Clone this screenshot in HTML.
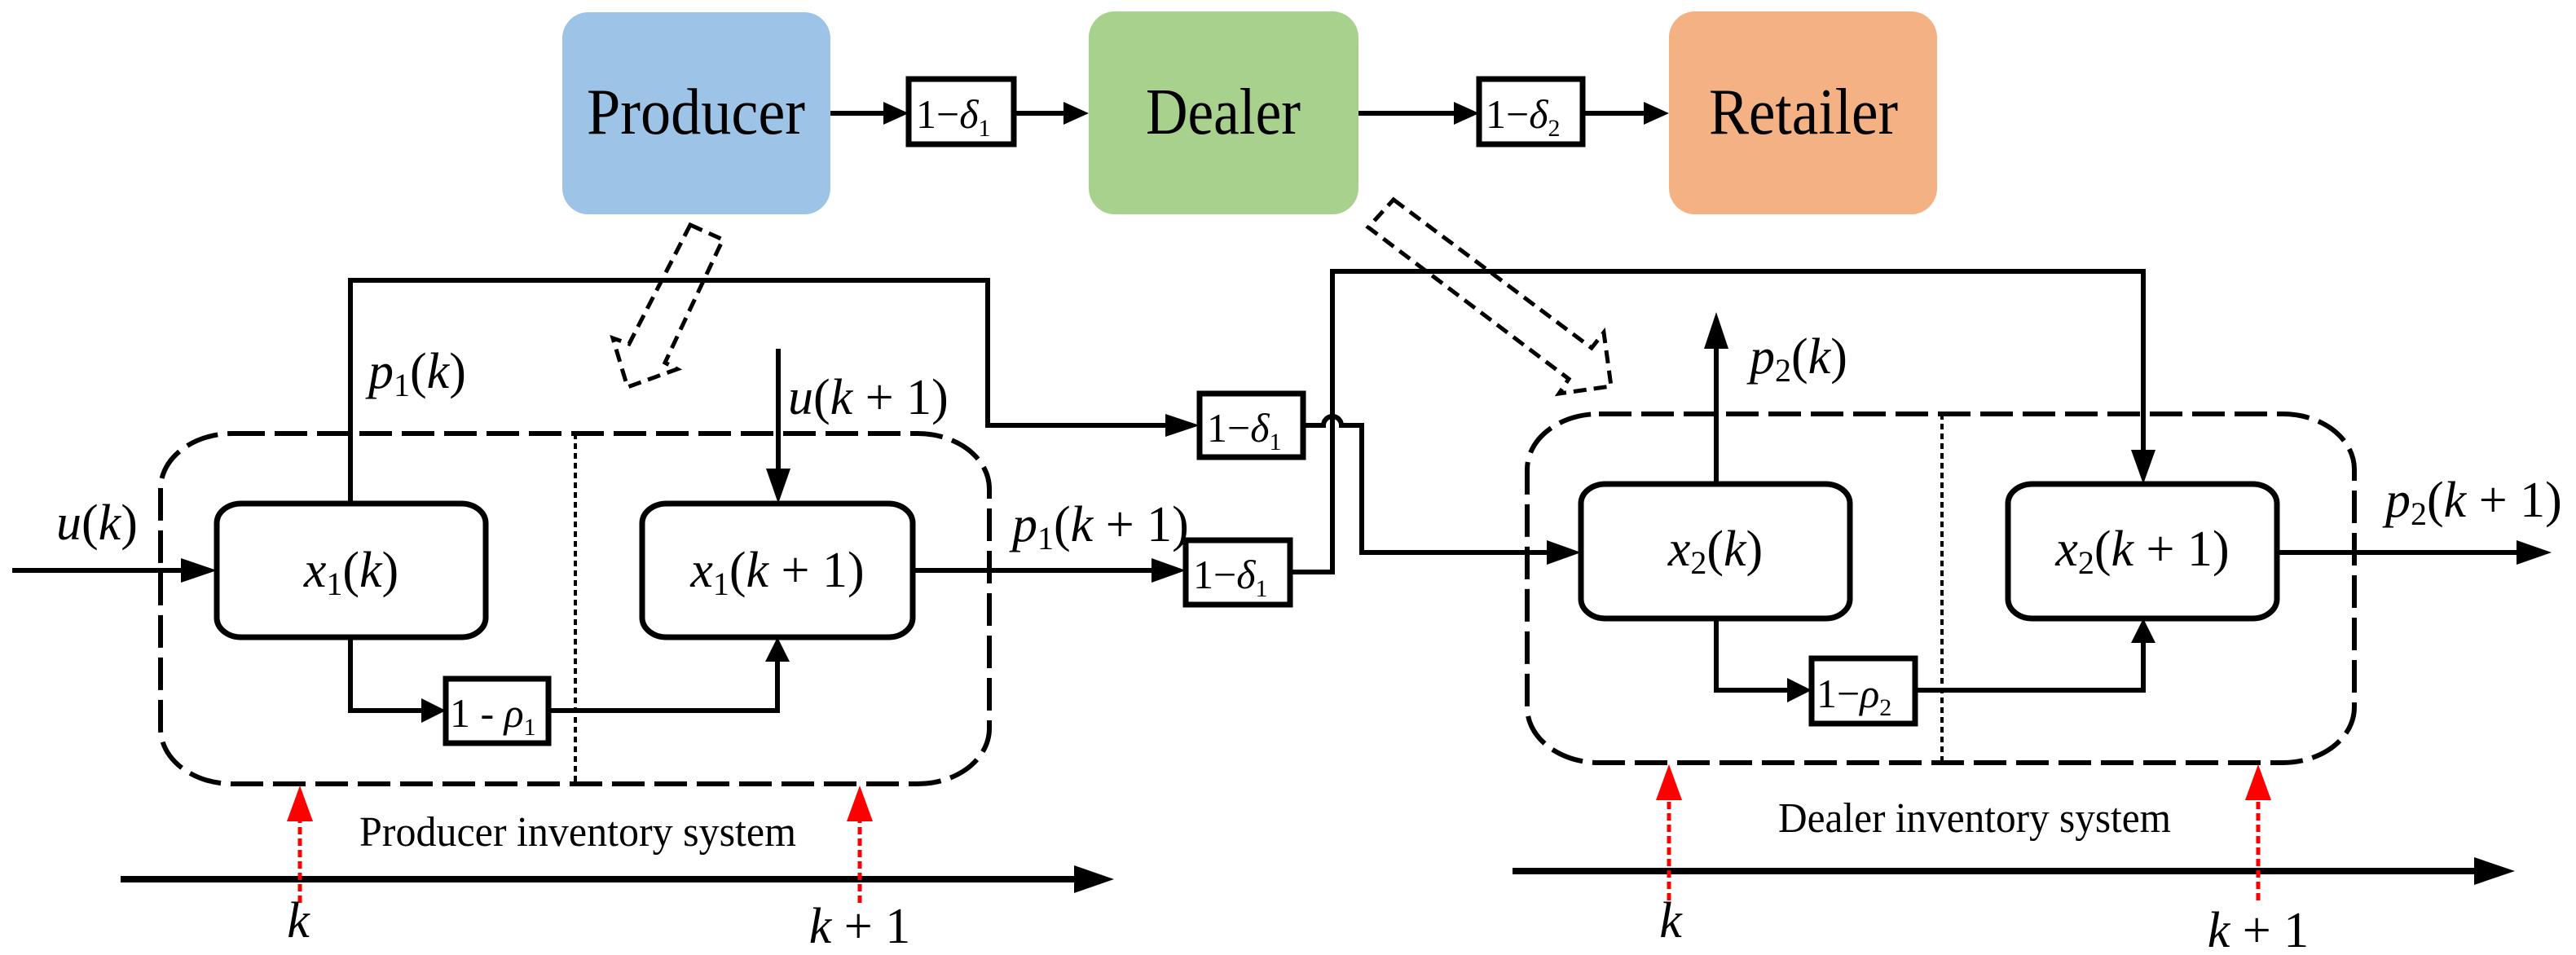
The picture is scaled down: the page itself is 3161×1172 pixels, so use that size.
<!DOCTYPE html>
<html><head><meta charset="utf-8"><style>
html,body{margin:0;padding:0;background:#fff}
svg{display:block}
svg text{font-family:"Liberation Serif","Times New Roman","DejaVu Serif",serif;fill:#000}
.m{font-style:italic;font-size:62px}
.n{font-style:normal}
.s{font-size:40px;font-style:normal}
.bx{font-size:50px}
</style></head><body>
<svg width="3161" height="1172" viewBox="0 0 3161 1172" xmlns="http://www.w3.org/2000/svg" font-family="Liberation Serif, DejaVu Serif, serif">
<g fill="none" stroke="#000" stroke-width="6">
<rect x="690" y="15" width="329" height="248" rx="32" fill="#9DC3E6" stroke="none"/>
<rect x="1336" y="14" width="331" height="249" rx="32" fill="#A9D18E" stroke="none"/>
<rect x="2048" y="14" width="329" height="249" rx="32" fill="#F4B183" stroke="none"/>
<line x1="1019" y1="139" x2="1090" y2="139"/>
<rect x="1115" y="97" width="129" height="80" stroke-width="7"/>
<line x1="1244" y1="139" x2="1310" y2="139"/>
<line x1="1667" y1="139" x2="1790" y2="139"/>
<rect x="1815" y="97" width="127" height="80" stroke-width="7"/>
<line x1="1942" y1="139" x2="2022" y2="139"/>

<polygon points="847,276 887,294 816,445 831,453 770,475 752,415 772,422" stroke-width="5" stroke-dasharray="16,9"/>
<polygon points="1710,245 1953,427 1968,408 1977,474 1913,483 1925,465 1679,279" stroke-width="5" stroke-dasharray="16,9"/>

<rect x="197" y="532" width="1017" height="430" rx="88" ry="68" stroke-width="6" stroke-dasharray="40,12"/>
<line x1="706" y1="532" x2="706" y2="962" stroke-width="4" stroke-dasharray="7,5"/>
<rect x="266" y="618" width="330" height="164" rx="30" ry="24" stroke-width="7"/>
<rect x="788" y="618" width="332" height="164" rx="30" ry="24" stroke-width="7"/>
<line x1="15" y1="700" x2="240" y2="700"/>
<polyline points="430,618 430,344 1212,344 1212,522 1447,522"/>
<rect x="1472" y="483" width="127" height="78" stroke-width="7"/>
<line x1="955" y1="428" x2="955" y2="592"/>
<line x1="1120" y1="700" x2="1430" y2="700"/>
<rect x="1455" y="663" width="128" height="79" stroke-width="7"/>
<polyline points="1583,702 1635,702 1635,333 2630,333 2630,568"/>
<path d="M1599,522 L1624,522 A11,11 0 0 1 1646,522 L1671,522 L1671,678 L1914,678"/>
<polyline points="430,782 430,872 522,872"/>
<rect x="547" y="833" width="126" height="79" stroke-width="7"/>
<polyline points="673,872 954,872 954,808"/>
<line x1="148" y1="1079" x2="1320" y2="1079" stroke-width="8"/>

<rect x="1874" y="508" width="1015" height="428" rx="88" ry="68" stroke-width="6" stroke-dasharray="40,12"/>
<line x1="2383" y1="508" x2="2383" y2="936" stroke-width="4" stroke-dasharray="7,5"/>
<rect x="1940" y="594" width="330" height="165" rx="30" ry="24" stroke-width="7"/>
<rect x="2464" y="594" width="330" height="165" rx="30" ry="24" stroke-width="7"/>
<line x1="2106" y1="594" x2="2106" y2="425"/>
<polyline points="2106,759 2106,847 2198,847"/>
<rect x="2223" y="808" width="127" height="80" stroke-width="7"/>
<polyline points="2350,847 2630,847 2630,785"/>
<line x1="2794" y1="678" x2="3090" y2="678"/>
<line x1="1856" y1="1069" x2="3040" y2="1069" stroke-width="8"/>

<g stroke="#f00" stroke-width="5" stroke-dasharray="9,5">
<line x1="368" y1="1108" x2="368" y2="1005"/>
<line x1="1055" y1="1108" x2="1055" y2="1005"/>
<line x1="2048" y1="1105" x2="2048" y2="980"/>
<line x1="2771" y1="1105" x2="2771" y2="980"/>
</g>
</g>

<g fill="#000">
<polygon points="1115,139 1084,125 1084,153"/>
<polygon points="1336,139 1305,125 1305,153"/>
<polygon points="1815,139 1784,125 1784,153"/>
<polygon points="2048,139 2017,125 2017,153"/>
<polygon points="266,700 222,685 222,715"/>
<polygon points="1472,522 1430,508 1430,536"/>
<polygon points="955,618 940,575 970,575"/>
<polygon points="1455,700 1413,685 1413,715"/>
<polygon points="2630,594 2615,552 2645,552"/>
<polygon points="1940,678 1898,663 1898,693"/>
<polygon points="547,872 517,857 517,887"/>
<polygon points="954,782 939,812 969,812"/>
<polygon points="1367,1079 1318,1062 1318,1096"/>
<polygon points="2106,383 2091,428 2121,428"/>
<polygon points="2223,847 2193,832 2193,862"/>
<polygon points="2630,759 2615,789 2645,789"/>
<polygon points="3131,678 3088,663 3088,693"/>
<polygon points="3086,1069 3036,1052 3036,1086"/>
</g>
<g fill="#f00">
<polygon points="368,964 352,1008 384,1008"/>
<polygon points="1055,964 1039,1008 1071,1008"/>
<polygon points="2048,938 2032,982 2064,982"/>
<polygon points="2771,938 2755,982 2787,982"/>
</g>

<text x="854" y="164" font-size="80" text-anchor="middle" textLength="268" lengthAdjust="spacingAndGlyphs">Producer</text>
<text x="1501" y="164" font-size="80" text-anchor="middle" textLength="190" lengthAdjust="spacingAndGlyphs">Dealer</text>
<text x="2213" y="164" font-size="80" text-anchor="middle" textLength="232" lengthAdjust="spacingAndGlyphs">Retailer</text>

<text x="1124" y="157" class="bx">1−<tspan font-style="italic">δ</tspan><tspan font-size="30" dy="10">1</tspan></text>
<text x="1823" y="157" class="bx">1−<tspan font-style="italic">δ</tspan><tspan font-size="30" dy="10">2</tspan></text>
<text x="1481" y="542" class="bx">1−<tspan font-style="italic">δ</tspan><tspan font-size="30" dy="10">1</tspan></text>
<text x="1464" y="722" class="bx">1−<tspan font-style="italic">δ</tspan><tspan font-size="30" dy="10">1</tspan></text>
<text x="552" y="892" class="bx">1 - <tspan font-style="italic">ρ</tspan><tspan font-size="30" dy="10">1</tspan></text>
<text x="2229" y="868" class="bx">1−<tspan font-style="italic">ρ</tspan><tspan font-size="30" dy="10">2</tspan></text>

<text x="69" y="662" class="m">u<tspan class="n">(</tspan>k<tspan class="n">)</tspan></text>
<text x="452" y="476" class="m">p<tspan class="s" dy="10">1</tspan><tspan class="n" dy="-10">(</tspan>k<tspan class="n">)</tspan></text>
<text x="967" y="508" class="m">u<tspan class="n">(</tspan>k<tspan class="n"> + 1)</tspan></text>
<text x="1242" y="664" class="m">p<tspan class="s" dy="10">1</tspan><tspan class="n" dy="-10">(</tspan>k<tspan class="n"> + 1)</tspan></text>
<text x="431" y="720" class="m" text-anchor="middle">x<tspan class="s" dy="10">1</tspan><tspan class="n" dy="-10">(</tspan>k<tspan class="n">)</tspan></text>
<text x="954" y="720" class="m" text-anchor="middle">x<tspan class="s" dy="10">1</tspan><tspan class="n" dy="-10">(</tspan>k<tspan class="n"> + 1)</tspan></text>
<text x="2147" y="458" class="m">p<tspan class="s" dy="10">2</tspan><tspan class="n" dy="-10">(</tspan>k<tspan class="n">)</tspan></text>
<text x="2927" y="634" class="m">p<tspan class="s" dy="10">2</tspan><tspan class="n" dy="-10">(</tspan>k<tspan class="n"> + 1)</tspan></text>
<text x="2105" y="694" class="m" text-anchor="middle">x<tspan class="s" dy="10">2</tspan><tspan class="n" dy="-10">(</tspan>k<tspan class="n">)</tspan></text>
<text x="2629" y="694" class="m" text-anchor="middle">x<tspan class="s" dy="10">2</tspan><tspan class="n" dy="-10">(</tspan>k<tspan class="n"> + 1)</tspan></text>

<text x="366" y="1150" class="m" text-anchor="middle">k</text>
<text x="1055" y="1157" class="m" text-anchor="middle">k<tspan class="n"> + 1</tspan></text>
<text x="2050" y="1150" class="m" text-anchor="middle">k</text>
<text x="2771" y="1162" class="m" text-anchor="middle">k<tspan class="n"> + 1</tspan></text>

<text x="441" y="1038" font-size="52" textLength="536" lengthAdjust="spacingAndGlyphs">Producer inventory system</text>
<text x="2182" y="1021" font-size="52" textLength="482" lengthAdjust="spacingAndGlyphs">Dealer inventory system</text>
</svg>
</body></html>
